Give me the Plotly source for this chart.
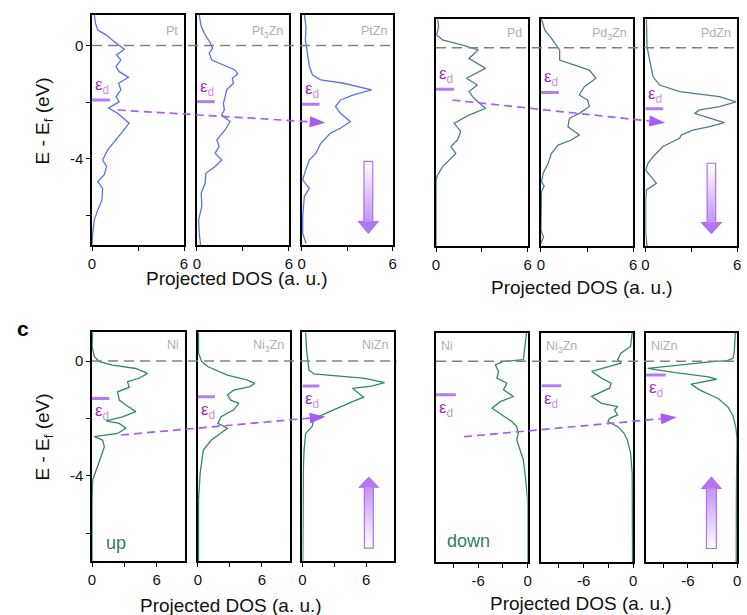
import math
import plotly.graph_objects as go

W, H = 747, 615

# ---------------- data (E - Ef in eV, projected DOS in a.u.) ----------------
pt_E = [1.08, 0.79, 0.55, 0.38, 0.14, -0.13, -0.33, -0.51, -0.74, -0.92, -1.12, -1.33, -1.56, -1.80, -1.98,
        -2.21, -2.39, -2.74, -3.04, -3.33, -3.68, -4.04, -4.27, -4.56, -4.80, -5.04, -5.45, -5.80, -6.15, -6.62, -7.04]
pt_dos = [0.15, 0.22, 0.37, 0.91, 1.45, 2.10, 1.60, 1.88, 1.56, 1.77, 2.38, 1.73, 1.88, 1.56, 1.77,
          1.08, 1.67, 2.42, 1.99, 1.56, 1.02, 0.69, 0.95, 0.80, 0.37, 0.69, 0.65, 0.37, 0.15, 0.04, 0.0]

pt3zn_E = [1.08, 0.67, 0.38, 0.11, -0.09, -0.27, -0.51, -0.68, -0.86, -1.00, -1.15, -1.33, -1.56, -1.80, -2.04,
           -2.27, -2.45, -2.68, -2.98, -3.33, -3.56, -3.80, -4.04, -4.27, -4.51, -4.86, -5.21, -5.68, -6.15, -6.62, -7.04]
pt3zn_dos = [0.15, 0.28, 0.54, 0.86, 1.02, 0.80, 0.97, 1.73, 2.48, 2.66, 2.31, 2.38, 1.94, 1.84, 1.73,
             1.79, 1.62, 2.16, 1.84, 1.30, 1.45, 1.19, 1.62, 1.19, 0.58, 0.54, 0.28, 0.32, 0.11, 0.15, 0.24]

ptzn_E = [1.08, 0.67, 0.20, -0.15, -0.74, -1.04, -1.21, -1.33, -1.56, -1.74, -1.92, -2.15, -2.39, -2.68, -2.92,
          -3.09, -3.45, -3.80, -4.04, -4.45, -4.74, -5.04, -5.33, -6.04, -6.62, -6.98]
ptzn_dos = [0.17, 0.28, 0.24, 0.35, 0.50, 0.71, 1.25, 2.76, 4.60, 3.41, 2.55, 2.22, 2.55, 3.20, 2.55,
            1.90, 1.25, 0.93, 0.50, 0.22, 0.06, 0.50, 0.17, 0.06, 0.06, 0.28]

pd_E = [1.00, 0.74, 0.45, 0.27, 0.09, -0.08, -0.38, -0.73, -1.08, -1.32, -1.55, -1.79, -2.14, -2.38, -2.67,
        -2.96, -3.26, -3.49, -3.73, -3.96, -4.20, -4.49, -4.67, -5.38, -7.00]
pd_dos = [0.11, 0.17, 0.04, 0.43, 1.73, 2.76, 2.16, 3.24, 1.99, 2.70, 2.16, 2.48, 3.24, 2.16, 1.19,
          1.62, 1.40, 0.97, 1.30, 0.86, 0.43, 0.11, 0.0, 0.0, 0.0]

pd3zn_E = [1.00, 0.62, 0.33, -0.08, -0.44, -0.61, -0.79, -1.08, -1.38, -1.67, -1.85, -2.08, -2.32, -2.49, -2.79,
           -3.08, -3.26, -3.44, -3.73, -4.08, -4.43, -4.73, -4.88, -5.08, -6.44, -6.68, -6.91]
pd3zn_dos = [0.04, 0.26, 0.69, 1.22, 1.22, 2.18, 3.15, 3.58, 2.83, 2.50, 3.04, 3.15, 2.50, 1.86, 1.76,
             2.50, 1.97, 1.11, 0.69, 0.47, 0.15, 0.04, 0.21, 0.04, 0.0, 0.17, 0.0]

pdzn_E = [1.00, 0.04, -0.44, -1.02, -1.32, -1.55, -1.73, -1.91, -2.08, -2.20, -2.32, -2.44, -2.65, -2.79, -2.91,
          -3.08, -3.20, -3.49, -3.85, -4.08, -4.32, -4.79, -5.02, -5.38, -6.56, -7.00]
pdzn_dos = [0.07, 0.11, 0.28, 0.50, 0.93, 2.24, 4.85, 5.93, 4.85, 3.54, 3.22, 3.98, 5.17, 4.20, 3.11,
            2.35, 2.24, 1.15, 0.50, 0.17, 0.02, 0.72, 0.07, 0.02, 0.02, 0.11]

ni_up_E = [1.00, 0.50, 0.15, -0.02, -0.14, -0.26, -0.43, -0.60, -0.72, -0.92, -1.07, -1.36, -1.53, -1.76, -1.94,
           -2.08, -2.17, -2.34, -2.52, -2.63, -2.75, -2.98, -3.33, -3.68, -4.14, -4.83, -6.96]
ni_up_dos = [0.06, 0.0, 0.22, 0.68, 1.91, 4.06, 5.14, 4.37, 3.29, 3.45, 2.37, 2.52, 3.14, 4.06, 2.83,
             1.29, 2.52, 3.14, 2.37, 0.22, 0.98, 1.14, 0.83, 0.52, 0.06, 0.0, 0.0]

ni3zn_up_E = [1.00, 0.27, -0.02, -0.20, -0.49, -0.66, -0.78, -0.89, -1.01, -1.18, -1.36, -1.47, -1.70, -1.94,
              -2.17, -2.34, -2.46, -2.75, -3.10, -3.44, -3.91, -4.83, -6.96]
ni3zn_up_dos = [0.06, 0.06, 0.36, 0.96, 2.77, 4.58, 5.33, 4.88, 3.37, 2.77, 3.07, 3.83, 3.37, 2.17,
                1.87, 2.77, 2.32, 1.27, 0.51, 0.36, 0.21, 0.06, 0.06]

nizn_up_E = [1.00, 0.38, -0.31, -0.45, -0.60, -0.75, -0.87, -0.95, -1.12, -1.26, -1.41, -1.65, -1.88, -2.05,
             -2.28, -2.52, -3.10, -3.68, -4.83, -6.96]
nizn_up_dos = [0.30, 0.39, 0.61, 1.06, 5.91, 7.73, 6.52, 4.70, 5.30, 5.76, 4.70, 3.18, 1.82, 1.06,
               0.91, 0.30, 0.15, 0.09, 0.06, 0.03]

ni_dn_E = [1.01, 0.40, 0.05, -0.01, -0.13, -0.36, -0.59, -0.77, -1.00, -1.23, -1.41, -1.64, -1.87, -2.10,
           -2.28, -2.51, -2.74, -3.09, -3.44, -3.91, -4.37, -4.84, -7.01]
ni_dn_dos = [-0.12, -0.32, -0.52, -2.92, -3.92, -3.52, -3.72, -2.52, -2.92, -1.72, -3.32, -4.32, -3.12, -1.92,
             -1.32, -1.12, -1.32, -0.92, -0.52, -0.32, -0.12, 0.0, 0.0]

ni3zn_dn_E = [1.01, 0.51, 0.28, 0.05, -0.07, -0.24, -0.36, -0.59, -0.77, -0.94, -1.23, -1.47, -1.58, -1.70,
              -1.87, -1.99, -2.10, -2.28, -2.51, -2.74, -3.21, -3.91, -7.01]
ni3zn_dn_dos = [-0.12, -0.31, -1.49, -1.88, -1.49, -3.45, -5.02, -3.84, -2.67, -2.86, -5.02, -3.84, -1.88, -2.27,
                -1.88, -2.86, -3.06, -1.88, -1.10, -0.71, -0.31, -0.12, -0.08]

nizn_dn_E = [1.00, 0.30, 0.10, 0.02, -0.02, -0.10, -0.25, -0.40, -0.55, -0.63, -0.70, -0.80, -1.00, -1.30,
             -1.60, -1.90, -2.30, -2.70, -4.50, -7.00]
nizn_dn_dos = [-0.20, -0.35, -0.50, -1.20, -3.00, -6.00, -10.90, -7.50, -3.50, -2.50, -4.00, -5.60, -4.60, -2.30,
               -1.10, -0.50, -0.15, 0.0, -0.08, -0.10]

# d-band centres (eV)
ed_pt = [-1.92, -1.98, -2.07]
ed_pd = [-1.47, -1.58, -2.16]
ed_ni_up = [-1.30, -1.24, -0.87]
ed_ni_dn = [-1.17, -0.86, -0.48]

labels_pt = ["Pt", "Pt<sub>3</sub>Zn", "PtZn"]
labels_pd = ["Pd", "Pd<sub>3</sub>Zn", "PdZn"]
labels_ni = ["Ni", "Ni<sub>3</sub>Zn", "NiZn"]

# ---------------- styling ----------------
FONT = "Arial, Liberation Sans, sans-serif"
C_PT = "#5a70f2"
C_PD = "#4d7d90"
C_NI = "#2e8b63"
C_EDLINE = "#b57cf2"
C_EPS = "#9b2fc2"
C_SUB = "#d58de8"
C_ARROW = "#a65cf6"
C_LAB = "#b0b0b0"
TICK_SIZE = 15
TITLE_SIZE = 19

# panel boxes in pixels (x0, x1, y0, y1)
groups = [
    dict(boxes=[(89, 182), (195, 288), (301, 393)], y=(15, 245), yr=[-7.04, 1.08], xr=[0, 6],
         xt=[0, 3, 6], xtt=["0", "", "6"], color=C_PT, E=[pt_E, pt3zn_E, ptzn_E],
         D=[pt_dos, pt3zn_dos, ptzn_dos], ed=ed_pt, lab=labels_pt, labpos="right", labshift=-8,
         edlen=1.17, edside="above", yticks=True),
    dict(boxes=[(436.7, 529.3), (542.7, 636), (648.3, 741)], y=(19.3, 246), yr=[-7.0, 1.0], xr=[0, 6],
         xt=[0, 3, 6], xtt=["0", "", "6"], color=C_PD, E=[pd_E, pd3zn_E, pdzn_E],
         D=[pd_dos, pd3zn_dos, pdzn_dos], ed=ed_pd, lab=labels_pd, labpos="right", labshift=-6,
         edlen=1.17, edside="above", yticks=False),
    dict(boxes=[(89, 182.7), (196, 288.7), (301.7, 394)], y=(332.3, 561), yr=[-6.96, 1.0], xr=[0, 8.6],
         xt=[0, 3, 6], xtt=["0", "", "6"], color=C_NI, E=[ni_up_E, ni3zn_up_E, nizn_up_E],
         D=[ni_up_dos, ni3zn_up_dos, nizn_up_dos], ed=ed_ni_up, lab=labels_ni, labpos="right", labshift=-5,
         edlen=1.6, edside="below", yticks=True),
    dict(boxes=[(436.7, 529.3), (543.3, 636), (649, 741)], y=(332.7, 562.3), yr=[-7.0, 0.99], xr=[-11.1, 0],
         xt=[-9, -6, -3, 0], xtt=["", "-6", "", "0"], color=C_NI, E=[ni_dn_E, ni3zn_dn_E, nizn_dn_E],
         D=[ni_dn_dos, ni3zn_dn_dos, nizn_dn_dos], ed=ed_ni_dn, lab=labels_ni, labpos="left", labshift=-5,
         edlen=2.4, edside="below", yticks=False),
]

fig = go.Figure()
layout = dict(width=W, height=H, margin=dict(l=0, r=0, t=0, b=0), paper_bgcolor="white",
              plot_bgcolor="white", showlegend=False, font=dict(family=FONT, color="#111"))
annotations = []
shapes = []

idx = 0
for g in groups:
    for j in range(3):
        idx += 1
        xs = "" if idx == 1 else str(idx)
        x0, x1 = g["boxes"][j]
        y0, y1 = g["y"]
        layout["xaxis" + xs] = dict(domain=[x0 / W, x1 / W], anchor="y" + xs, range=g["xr"],
                                     showline=True, linecolor="black", linewidth=1.6, mirror=True,
                                     ticks="outside", ticklen=4, tickwidth=1.2, tickcolor="black",
                                     tickvals=g["xt"], ticktext=g["xtt"], showgrid=False, zeroline=False,
                                     tickfont=dict(size=TICK_SIZE, family=FONT, color="#111"))
        ya = dict(domain=[1 - y1 / H, 1 - y0 / H], anchor="x" + xs, range=g["yr"],
                  showline=True, linecolor="black", linewidth=1.6, mirror=True,
                  showgrid=False, zeroline=False)
        if g["yticks"] and j == 0:
            ya.update(ticks="outside", ticklen=4, tickwidth=1.2, tickcolor="black",
                      tickvals=[0, -2, -4, -6], ticktext=["0", "", "-4", ""],
                      tickfont=dict(size=TICK_SIZE, family=FONT, color="#111"))
        else:
            ya.update(ticks="", showticklabels=False)
        layout["yaxis" + xs] = ya

        # curve
        fig.add_trace(go.Scatter(x=g["D"][j], y=g["E"][j], mode="lines", xaxis="x" + xs, yaxis="y" + xs,
                                 line=dict(color=g["color"], width=1.3), hoverinfo="skip"))
        # d-band centre marker
        xmin = g["xr"][0]
        fig.add_trace(go.Scatter(x=[xmin, xmin + g["edlen"]], y=[g["ed"][j]] * 2, mode="lines",
                                 xaxis="x" + xs, yaxis="y" + xs,
                                 line=dict(color=C_EDLINE, width=3), hoverinfo="skip"))
        eps = (f"<span style='color:{C_EPS}'>ε</span>"
               f"<sub><span style='color:{C_SUB}'>d</span></sub>")
        annotations.append(dict(xref="x" + xs, yref="y" + xs, x=xmin, y=g["ed"][j], text=eps,
                                showarrow=False, xanchor="left",
                                yanchor="bottom" if g["edside"] == "above" else "top",
                                xshift=1, yshift=1 if g["edside"] == "above" else -1,
                                font=dict(size=17, family=FONT, color=C_EPS)))
        # composition label
        right = g["labpos"] == "right"
        annotations.append(dict(xref=f"x{xs} domain", yref=f"y{xs} domain", x=1 if right else 0, y=1,
                                xanchor="right" if right else "left", yanchor="top",
                                xshift=-4 if right else 3, yshift=g["labshift"] + 1, text=g["lab"][j],
                                showarrow=False, font=dict(size=12.5, family=FONT, color=C_LAB)))
    # zero (Fermi level) dashed line across the group
    first = idx - 2
    fs = "" if first == 1 else str(first)
    xl = g["boxes"][0][0]
    xr_ = g["boxes"][2][1] + (3 if g["labpos"] == "right" and g["color"] == C_NI else 0)
    shapes.append(dict(type="line", xref="paper", yref="y" + fs, x0=xl / W, x1=xr_ / W, y0=0, y1=0,
                       line=dict(color="#808080", width=1.5, dash="10px,6px"), layer="above"))


# ---------------- gradient block arrows (decoration, axis coordinates) ----------------
def hexmix(c1, c2, t):
    a = [int(c1[i:i + 2], 16) for i in (1, 3, 5)]
    b = [int(c2[i:i + 2], 16) for i in (1, 3, 5)]
    return "#%02x%02x%02x" % tuple(round(a[k] + (b[k] - a[k]) * t) for k in range(3))


def block_arrow(ax, xc, hwb, hwh, y_tail, y_base, y_tip, n=30):
    xs = "" if ax == 1 else str(ax)
    # overlapping bands (each from its level to the head base) -> no seams
    for k in range(n):
        t0 = k / n
        ya = y_tail + (y_base - y_tail) * t0
        shapes.append(dict(type="rect", xref="x" + xs, yref="y" + xs, x0=xc - hwb, x1=xc + hwb,
                           y0=ya, y1=y_base, fillcolor=hexmix("#ffffff", "#c394f6", t0 + 0.5 / n),
                           line=dict(width=0), layer="above"))
    shapes.append(dict(type="path", xref="x" + xs, yref="y" + xs,
                       path=f"M {xc - hwh} {y_base} L {xc + hwh} {y_base} L {xc} {y_tip} Z",
                       fillcolor="#b676f4", line=dict(width=0), layer="above"))
    shapes.append(dict(type="path", xref="x" + xs, yref="y" + xs,
                       path=(f"M {xc - hwb} {y_tail} L {xc + hwb} {y_tail} L {xc + hwb} {y_base} "
                             f"L {xc + hwh} {y_base} L {xc} {y_tip} L {xc - hwh} {y_base} "
                             f"L {xc - hwb} {y_base} Z"),
                       fillcolor="rgba(0,0,0,0)", line=dict(color="#b070f0", width=1.2), layer="above"))


block_arrow(3, 4.39, 0.29, 0.64, -4.09, -6.21, -6.62)
block_arrow(6, 4.32, 0.28, 0.645, -4.08, -6.17, -6.55)
block_arrow(9, 6.25, 0.42, 0.885, -6.51, -4.39, -4.05)
block_arrow(12, -3.13, 0.60, 1.16, -6.52, -4.43, -4.04)


# ---------------- dashed trend arrows (paper pixels) ----------------
def dashed_arrow(p0, p1, head=16, hw=5.5):
    (xa, ya), (xb, yb) = p0, p1
    L = math.hypot(xb - xa, yb - ya)
    ux, uy = (xb - xa) / L, (yb - ya) / L
    bx, by = xb - ux * head, yb - uy * head
    nx, ny = -uy, ux
    P = lambda x, y: (x / W, 1 - y / H)
    s0, s1 = P(xa, ya), P(bx, by)
    shapes.append(dict(type="line", xref="paper", yref="paper", x0=s0[0], y0=s0[1], x1=s1[0], y1=s1[1],
                       line=dict(color=C_ARROW, width=1.7, dash="8px,5px"), layer="above"))
    a, b, c = P(bx + nx * hw, by + ny * hw), P(bx - nx * hw, by - ny * hw), P(xb, yb)
    shapes.append(dict(type="path", xref="paper", yref="paper",
                       path=f"M {a[0]} {a[1]} L {b[0]} {b[1]} L {c[0]} {c[1]} Z",
                       fillcolor=C_ARROW, line=dict(width=0), layer="above"))


dashed_arrow((115, 110), (325, 122.7))
dashed_arrow((453.3, 100), (668.3, 122.7))
dashed_arrow((118.3, 435), (325, 416.7))
dashed_arrow((465, 436.7), (680, 417.3))


# ---------------- axis titles and panel text ----------------
def ptext(x, y, text, size=TITLE_SIZE, color="#111", angle=0, **kw):
    annotations.append(dict(xref="paper", yref="paper", x=x / W, y=1 - y / H, text=text, showarrow=False,
                            xanchor="center", yanchor="middle", textangle=angle,
                            font=dict(size=size, family=FONT, color=color), **kw))


ptext(236, 278, "Projected DOS (a. u.)")
ptext(584, 287, "Projected DOS (a. u.)")
ptext(229, 605, "Projected DOS (a. u.)")
ptext(583, 603, "Projected DOS (a. u.)")
ptext(40, 121, "E - E<sub>f</sub> (eV)", angle=-90)
ptext(40, 437, "E - E<sub>f</sub> (eV)", angle=-90)
ptext(19, 328, "<b>c</b>", size=21, color="#000")
ptext(113, 543, "up", size=18, color="#2e7d5b")
ptext(470, 541, "down", size=18, color="#2e7d5b")

layout["annotations"] = annotations
layout["shapes"] = shapes
fig.update_layout(**layout)
fig.write_html("out.html")
